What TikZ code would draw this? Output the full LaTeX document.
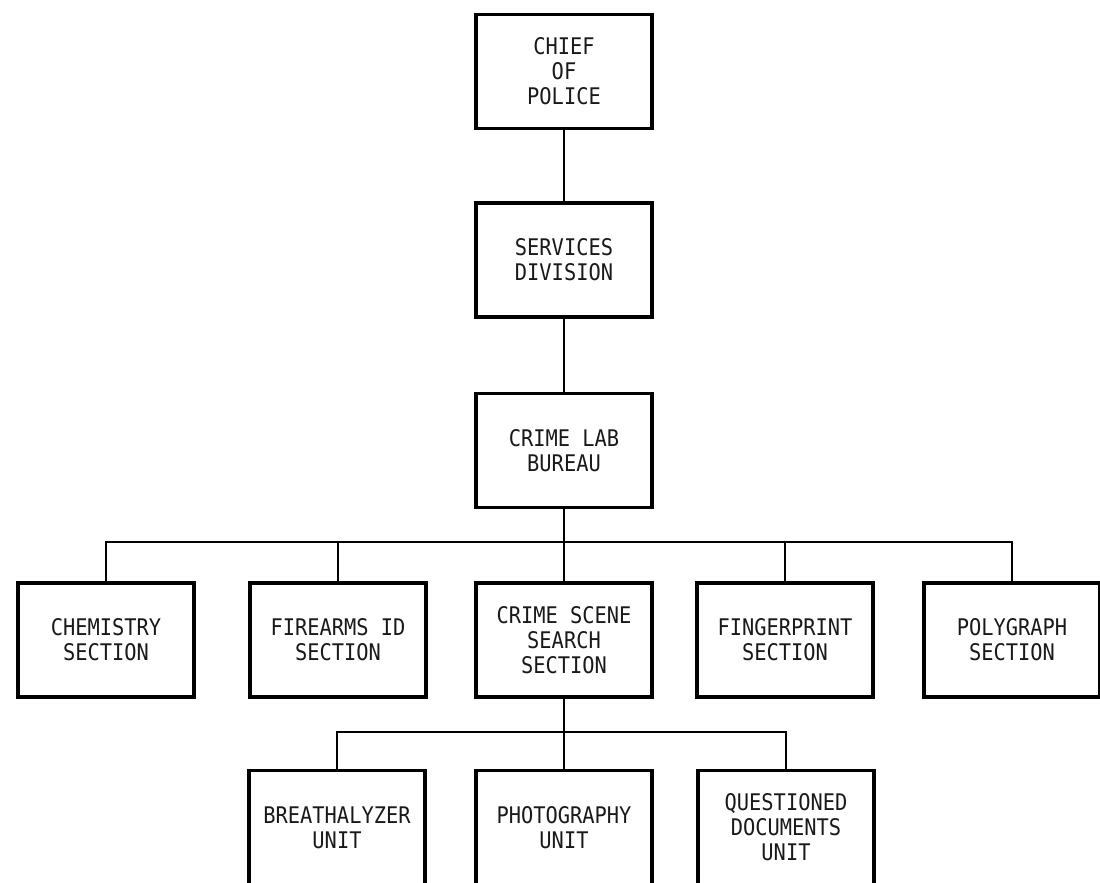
\documentclass[tikz,border=0pt]{standalone}
\usepackage{fontspec}
\newfontfamily\typer[FakeStretch=0.89]{DejaVu Sans Mono}
\begin{document}
\begin{tikzpicture}[x=1pt,y=-1pt,
  orgbox/.style={draw=black, line width=3.2pt, fill=white,
    minimum width=176pt, minimum height=114pt, inner sep=0pt,
    align=center, text=black!90,
    font={\typer\fontsize{22.9}{25}\selectfont}},
  link/.style={draw=black, line width=1.4pt}]
\useasboundingbox (0,0) rectangle (1100,883);

% top of the chain of command
\node[orgbox] (chief)    at (564,71.5)  {CHIEF\\OF\\POLICE};
\node[orgbox] (services) at (564,260)   {SERVICES\\DIVISION};
\node[orgbox] (lab)      at (564,450.5) {CRIME LAB\\BUREAU};

% sections of the bureau
\node[orgbox] (chem)   at (106,640)  {CHEMISTRY\\SECTION};
\node[orgbox] (fire)   at (338,640)  {FIREARMS ID\\SECTION};
\node[orgbox] (scene)  at (564,640)  {CRIME SCENE\\SEARCH\\SECTION};
\node[orgbox] (finger) at (785,640)  {FINGERPRINT\\SECTION};
\node[orgbox] (poly)   at (1012,640) {POLYGRAPH\\SECTION};

% units under crime scene search
\node[orgbox] (breath) at (337,827.5) {BREATHALYZER\\UNIT};
\node[orgbox] (photo)  at (564,827.5) {PHOTOGRAPHY\\UNIT};
\node[orgbox] (qdoc)   at (786,827.5) {QUESTIONED\\DOCUMENTS\\UNIT};

% bus lines
\coordinate (bus) at (564,542);
\coordinate (sub) at (564,732);

\draw[link] (chief) -- (services);
\draw[link] (services) -- (lab);
\draw[link] (lab) -- (scene);
\draw[link] (chem.north) |- (bus) -| (poly.north);
\draw[link] (fire.north) -- (fire.north |- bus);
\draw[link] (finger.north) -- (finger.north |- bus);

\draw[link] (scene) -- (photo);
\draw[link] (breath.north) |- (sub) -| (qdoc.north);
\end{tikzpicture}
\end{document}
